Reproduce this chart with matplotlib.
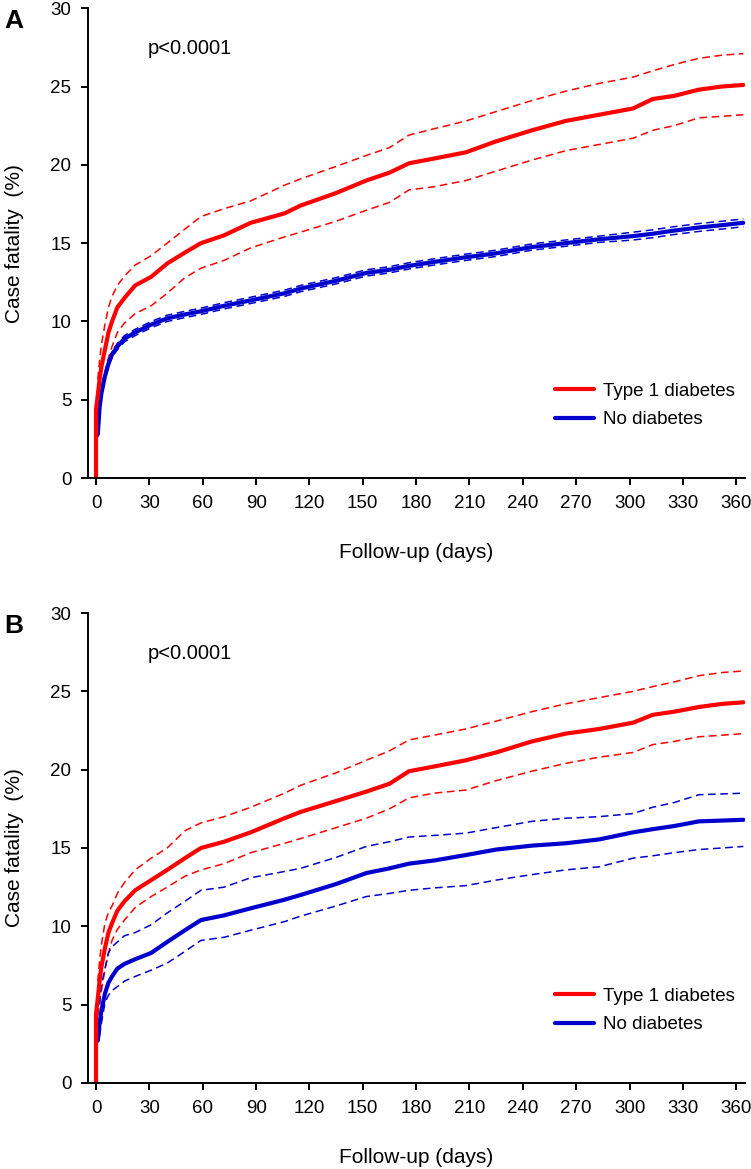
import numpy as np
import matplotlib
matplotlib.use('Agg')
import matplotlib.pyplot as plt

plt.rcParams['font.family'] = ['Liberation Sans', 'DejaVu Sans']

nan = np.nan

# follow-up days (0 appears twice for the vertical jump at time zero)
days = [0, 0, 1, 2, 3, 5, 7, 9, 12, 16, 22, 31, 40, 50, 59, 72, 87, 106, 115, 135,
        152, 165, 176, 190, 208, 225, 245, 264, 283, 302, 313, 325, 339, 352, 364]

# panel A
a_t1 = [0, 4.4, 5.3, 6.3, 7.1, 8.2, 9.3, 10.0, 10.9, 11.5, 12.3, 12.85, 13.7, 14.4, 15.0, 15.5, 16.3, 16.9, 17.4, 18.2,
        19.0, 19.5, 20.1, 20.4, 20.8, 21.5, 22.2, 22.8, 23.2, 23.6, 24.2, 24.4, 24.8, 25.0, 25.1]
a_t1_hi = [nan, nan, 6.3, 7.5, 8.5, 9.8, 10.9, 11.6, 12.3, 12.9, 13.6, 14.2, 15.0, 15.9, 16.7, 17.2, 17.7, 18.7, 19.1, 19.9,
           20.6, 21.1, 21.9, 22.3, 22.8, 23.4, 24.1, 24.7, 25.2, 25.6, 26.0, 26.4, 26.8, 27.0, 27.1]
a_t1_lo = [nan, nan, 4.4, 5.2, 5.8, 6.8, 7.7, 8.4, 9.3, 9.9, 10.5, 11.0, 11.8, 12.8, 13.4, 13.9, 14.7, 15.4, 15.7, 16.4,
           17.1, 17.6, 18.4, 18.6, 19.0, 19.6, 20.3, 20.9, 21.3, 21.7, 22.2, 22.5, 23.0, 23.1, 23.2]
a_nd = [nan, nan, 2.8, 4.5, 5.4, 6.5, 7.3, 7.9, 8.4, 8.9, 9.3, 9.8, 10.2, 10.45, 10.65, 11.0, 11.35, 11.8, 12.1, 12.6,
        13.1, 13.3, 13.55, 13.8, 14.1, 14.35, 14.75, 15.0, 15.25, 15.45, 15.6, 15.8, 16.0, 16.15, 16.3]
a_nd_hi = [nan, nan, 3.0, 4.7, 5.6, 6.7, 7.5, 8.1, 8.6, 9.1, 9.5, 10.0, 10.4, 10.65, 10.85, 11.2, 11.55, 12.0, 12.3, 12.8,
           13.3, 13.5, 13.75, 14.0, 14.3, 14.55, 14.95, 15.2, 15.45, 15.7, 15.85, 16.05, 16.25, 16.4, 16.55]
a_nd_lo = [nan, nan, 2.6, 4.3, 5.2, 6.3, 7.1, 7.7, 8.2, 8.7, 9.1, 9.6, 10.0, 10.25, 10.45, 10.8, 11.15, 11.6, 11.9, 12.4,
           12.9, 13.1, 13.35, 13.6, 13.9, 14.15, 14.55, 14.8, 15.05, 15.2, 15.35, 15.55, 15.75, 15.9, 16.05]

# panel B
b_t1 = [0, 4.4, 5.4, 6.5, 7.4, 8.6, 9.6, 10.2, 11.0, 11.6, 12.3, 12.95, 13.6, 14.35, 15.0, 15.4, 16.0, 16.9, 17.3, 18.0,
        18.6, 19.1, 19.9, 20.2, 20.6, 21.1, 21.8, 22.3, 22.6, 23.0, 23.5, 23.7, 24.0, 24.2, 24.3]
b_t1_hi = [nan, nan, 6.5, 7.8, 8.8, 10.2, 10.9, 11.3, 12.1, 12.8, 13.6, 14.35, 15.0, 16.1, 16.6, 17.0, 17.6, 18.5, 19.0, 19.8,
           20.6, 21.2, 21.9, 22.2, 22.6, 23.1, 23.7, 24.2, 24.6, 25.0, 25.3, 25.6, 26.0, 26.2, 26.3]
b_t1_lo = [nan, nan, 4.3, 5.2, 5.9, 7.2, 8.3, 9.1, 9.8, 10.4, 11.2, 11.9, 12.5, 13.2, 13.6, 14.0, 14.7, 15.3, 15.6, 16.3,
           16.9, 17.5, 18.2, 18.5, 18.7, 19.3, 19.9, 20.4, 20.8, 21.1, 21.6, 21.8, 22.1, 22.2, 22.3]
b_nd = [nan, nan, 2.7, 3.8, 4.6, 5.7, 6.4, 6.8, 7.3, 7.6, 7.9, 8.3, 9.0, 9.75, 10.4, 10.7, 11.15, 11.7, 12.0, 12.7,
        13.4, 13.7, 14.0, 14.2, 14.55, 14.9, 15.15, 15.3, 15.55, 16.0, 16.2, 16.4, 16.7, 16.75, 16.8]
b_nd_hi = [nan, nan, nan, 5.0, 6.2, 7.3, 8.3, 8.7, 9.0, 9.4, 9.6, 10.1, 10.85, 11.6, 12.3, 12.5, 13.1, 13.5, 13.7, 14.4,
           15.1, 15.4, 15.7, 15.8, 15.95, 16.3, 16.7, 16.9, 17.0, 17.2, 17.6, 17.9, 18.4, 18.45, 18.5]
b_nd_lo = [nan, nan, nan, 3.0, 3.8, 5.1, 5.6, 5.9, 6.15, 6.5, 6.8, 7.2, 7.65, 8.4, 9.1, 9.3, 9.75, 10.3, 10.65, 11.3,
           11.9, 12.1, 12.3, 12.45, 12.6, 12.95, 13.3, 13.6, 13.8, 14.35, 14.5, 14.7, 14.9, 15.0, 15.1]

x_ticks = list(range(0, 361, 30))
y_ticks = [0, 5, 10, 15, 20, 25, 30]
RED = '#FF0000'
BLUE = '#0000CD'

fig = plt.figure(figsize=(7.51, 11.69), dpi=100)

panels = [
    ('A', [0.1172, 0.591, 0.875, 0.402], a_t1, a_t1_hi, a_t1_lo, a_nd, a_nd_hi, a_nd_lo),
    ('B', [0.1172, 0.0736, 0.875, 0.402], b_t1, b_t1_hi, b_t1_lo, b_nd, b_nd_hi, b_nd_lo),
]

for letter, rect, t1, t1_hi, t1_lo, nd, nd_hi, nd_lo in panels:
    ax = fig.add_axes(rect)
    dash = (0, (5, 3))
    ax.plot(days, t1_hi, color=RED, lw=1.1, ls=dash)
    ax.plot(days, t1_lo, color=RED, lw=1.1, ls=dash)
    ax.plot(days, nd_hi, color=BLUE, lw=1.1, ls=dash)
    ax.plot(days, nd_lo, color=BLUE, lw=1.1, ls=dash)
    l2, = ax.plot(days, nd, color=BLUE, lw=3.0, solid_capstyle='round', label='No diabetes')
    l1, = ax.plot(days, t1, color=RED, lw=3.0, solid_capstyle='round', label='Type 1 diabetes')

    ax.set_xlim(-4.5, 365)
    ax.set_ylim(0, 30)
    ax.set_xticks(x_ticks)
    ax.set_yticks(y_ticks)
    for s in ['top', 'right']:
        ax.spines[s].set_visible(False)
    for s in ['left', 'bottom']:
        ax.spines[s].set_linewidth(1.4)
    ax.tick_params(direction='out', length=5, width=1.4, labelsize=13.5, pad=7)

    ax.set_xlabel('Follow-up (days)', fontsize=15)
    ax.set_ylabel('Case fatality  (%)', fontsize=15)
    ax.xaxis.set_label_coords(0.5, -0.138)
    ax.yaxis.set_label_coords(-0.097, 0.5)

    ax.text(29, 27.4, 'p<0.0001', fontsize=14.5, va='center', ha='left')
    ax.text(-0.128, 0.972, letter, transform=ax.transAxes, fontsize=19, fontweight='bold',
            va='center', ha='left')

    ax.legend(handles=[l1, l2], loc='lower left', bbox_to_anchor=(0.685, 0.07),
              frameon=False, fontsize=13.5, handlelength=2.1, handletextpad=0.45,
              labelspacing=0.6)

fig.savefig('out.png', dpi=100)
